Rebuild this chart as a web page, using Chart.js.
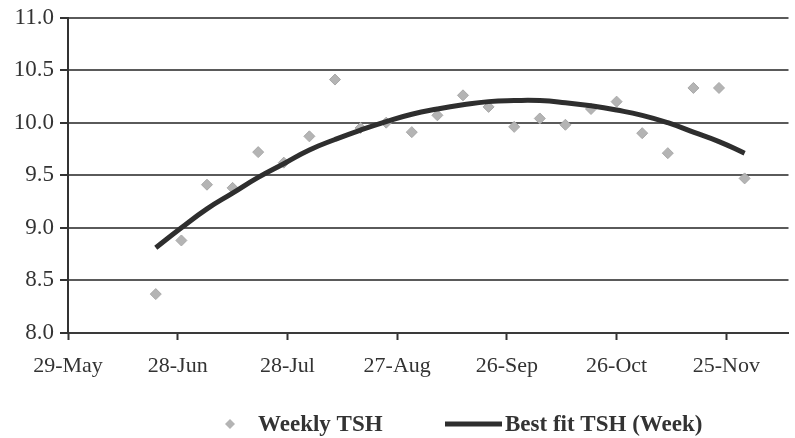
<!DOCTYPE html>
<html>
<head>
<meta charset="utf-8">
<title>Weekly TSH</title>
<script src="https://cdn.jsdelivr.net/npm/chart.js@4/dist/chart.umd.min.js"></script>
<style>
  html, body { margin: 0; padding: 0; background: #ffffff; }
  #wrap { width: 795px; height: 438px; }
</style>
</head>
<body>
<div id="wrap"><canvas id="c" width="795" height="438"></canvas></div>
<script>
// Axis origin and date tick labels (every 30 days)
const axisStart = '2009-05-29';
const axisEndDays = 197;
const tickLabels = ['29-May', '28-Jun', '28-Jul', '27-Aug', '26-Sep', '26-Oct', '25-Nov'];

// Week-ending dates
const weekDates = [
  '2009-06-22', '2009-06-29', '2009-07-06', '2009-07-13', '2009-07-20', '2009-07-27',
  '2009-08-03', '2009-08-10', '2009-08-17', '2009-08-24', '2009-08-31', '2009-09-07',
  '2009-09-14', '2009-09-21', '2009-09-28', '2009-10-05', '2009-10-12', '2009-10-19',
  '2009-10-26', '2009-11-02', '2009-11-09', '2009-11-16', '2009-11-23', '2009-11-30'
];

// Weekly TSH readings
const weeklyTSH = [
  8.37, 8.88, 9.41, 9.38, 9.72, 9.62,
  9.87, 10.41, 9.95, 10.00, 9.91, 10.07,
  10.26, 10.15, 9.96, 10.04, 9.98, 10.13,
  10.20, 9.90, 9.71, 10.33, 10.33, 9.47
];

// Best-fit curve values at the same weeks
const bestFitTSH = [
  8.81, 9.00, 9.18, 9.33, 9.48, 9.61,
  9.74, 9.84, 9.93, 10.01, 10.08, 10.13,
  10.17, 10.20, 10.21, 10.21, 10.19, 10.16,
  10.12, 10.07, 10.00, 9.91, 9.82, 9.71
];

const seriesNames = ['Weekly TSH', 'Best fit TSH (Week)'];

const DAY = 86400000;
const t0 = Date.parse(axisStart + 'T00:00:00Z');
const dayOffset = s => Math.round((Date.parse(s + 'T00:00:00Z') - t0) / DAY);
const xs = weekDates.map(dayOffset);

const textColor = '#333333';
const serif = "'Liberation Serif', 'Times New Roman', serif";

// Legend drawn under the plot
const bottomLegend = {
  id: 'bottomLegend',
  afterDraw(chart) {
    const ctx = chart.ctx;
    const ds = chart.data.datasets;
    const y = 424;
    ctx.save();
    ctx.font = "bold 23px " + serif;
    ctx.textBaseline = 'middle';
    ctx.textAlign = 'left';

    // diamond marker
    const pt = ds[1];
    ctx.fillStyle = pt.backgroundColor;
    ctx.beginPath();
    ctx.moveTo(230, y - 5);
    ctx.lineTo(235, y);
    ctx.lineTo(230, y + 5);
    ctx.lineTo(225, y);
    ctx.closePath();
    ctx.fill();
    ctx.fillStyle = textColor;
    ctx.fillText(pt.label, 258, y + 1);

    // line sample
    const ln = ds[0];
    ctx.strokeStyle = ln.borderColor;
    ctx.lineWidth = ln.borderWidth;
    ctx.beginPath();
    ctx.moveTo(445, y);
    ctx.lineTo(502, y);
    ctx.stroke();
    ctx.fillText(ln.label, 505, y + 1);
    ctx.restore();
  }
};

new Chart(document.getElementById('c'), {
  data: {
    datasets: [
      {
        type: 'line',
        label: seriesNames[1],
        data: xs.map((x, i) => ({ x, y: bestFitTSH[i] })),
        borderColor: '#2e2e2e',
        borderWidth: 5,
        borderCapStyle: 'butt',
        pointRadius: 0,
        tension: 0.5,
        fill: false,
        order: 0
      },
      {
        type: 'scatter',
        label: seriesNames[0],
        data: xs.map((x, i) => ({ x, y: weeklyTSH[i] })),
        pointStyle: 'rectRot',
        pointRadius: 5.5,
        backgroundColor: '#b4b4b4',
        borderColor: '#a8a8a8',
        borderWidth: 1,
        order: 1
      }
    ]
  },
  options: {
    responsive: false,
    animation: false,
    devicePixelRatio: 1,
    layout: { padding: { top: 17, right: 0, bottom: 50, left: 0 } },
    plugins: {
      legend: { display: false },
      tooltip: { enabled: false }
    },
    scales: {
      x: {
        type: 'linear',
        min: 0,
        max: axisEndDays,
        afterBuildTicks: scale => {
          scale.ticks = scale.ticks.filter(t => t.value % 30 === 0);
        },
        afterFit: scale => { scale.height = 55; },
        ticks: {
          stepSize: 30,
          autoSkip: false,
          maxRotation: 0,
          padding: 13,
          color: textColor,
          font: { family: serif, size: 22 },
          callback: v => tickLabels[Math.round(v / 30)] || ''
        },
        grid: {
          drawOnChartArea: false,
          drawTicks: true,
          tickLength: 7,
          tickColor: '#333333',
          tickWidth: 2
        },
        border: { color: '#3a3a3a', width: 2 }
      },
      y: {
        min: 8,
        max: 11,
        afterFit: scale => { scale.width = 68; },
        ticks: {
          stepSize: 0.5,
          padding: 6,
          color: textColor,
          font: { family: serif, size: 23, lineHeight: 1 },
          callback: v => Number(v).toFixed(1)
        },
        grid: {
          color: '#5a5a5a',
          lineWidth: 2,
          tickLength: 8,
          tickColor: '#333333'
        },
        border: { color: '#333333', width: 2 }
      }
    }
  },
  plugins: [bottomLegend]
});
</script>
</body>
</html>
